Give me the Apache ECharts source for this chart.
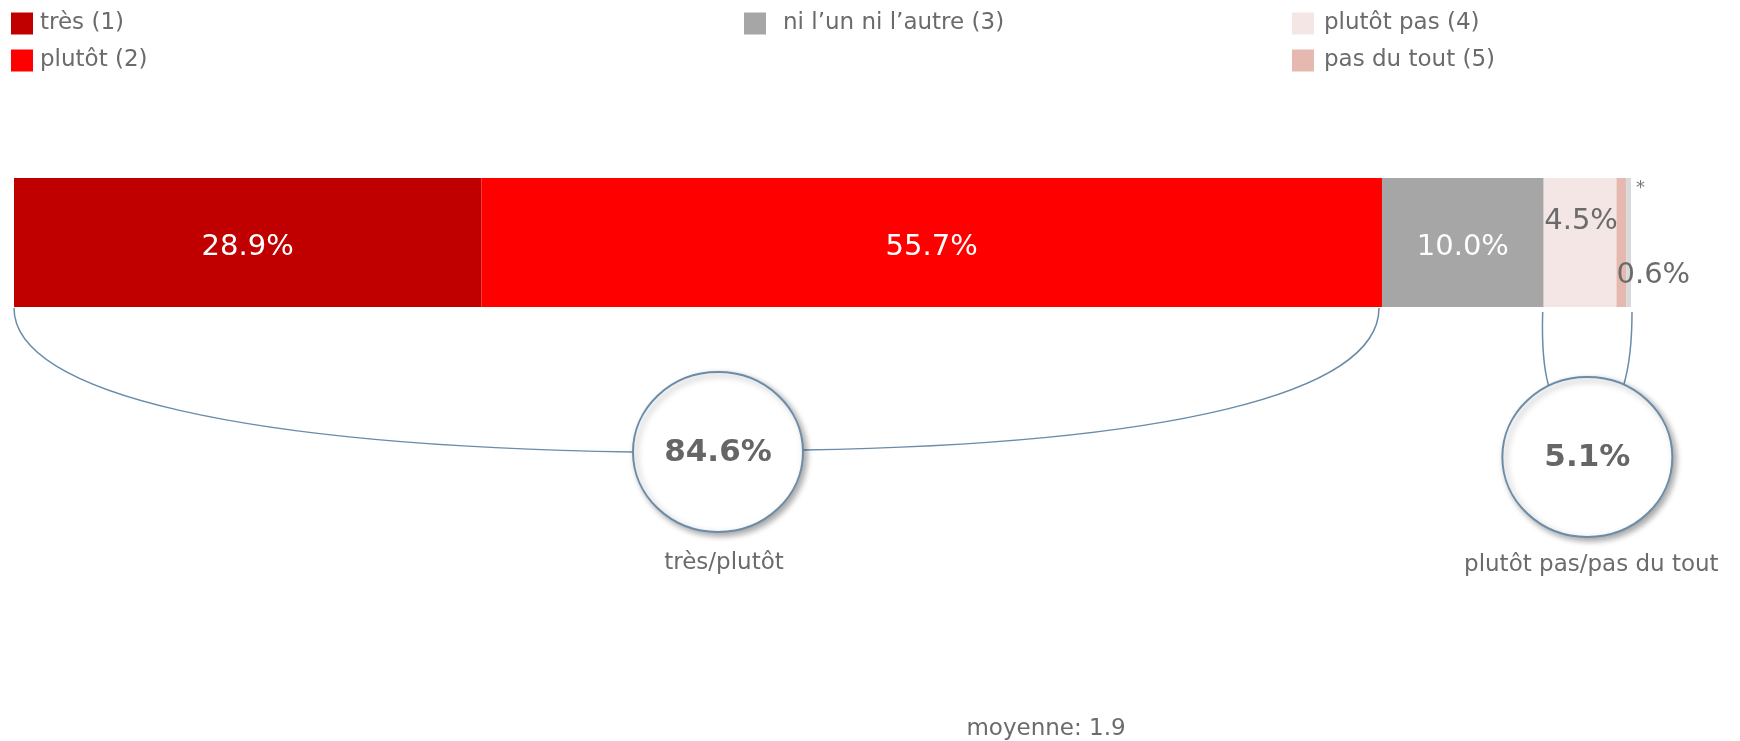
<!DOCTYPE html>
<html>
<head>
<meta charset="utf-8">
<script src="https://cdn.jsdelivr.net/npm/echarts@6/dist/echarts.min.js"></script>
<style>
  html, body { margin: 0; padding: 0; background: #fff; }
  #chart { width: 1740px; height: 741px; }
</style>
</head>
<body>
<div id="chart"></div>
<script>
// Answer categories and their shares (%), stacked in one horizontal bar
const categories = ['très (1)', 'plutôt (2)', 'ni l’un ni l’autre (3)', 'plutôt pas (4)', 'pas du tout (5)', '*'];
const shares = [28.9, 55.7, 10.0, 4.5, 0.6, 0.3];
const colors = ['#C00000', '#FF0000', '#A6A6A6', '#F5E6E6', '#E6B9B0', '#D9D9D9'];

// Summary groups (indices into categories)
const groupPositive = { name: 'très/plutôt', members: [0, 1] };
const groupNegative = { name: 'plutôt pas/pas du tout', members: [3, 4] };
const meanText = 'moyenne: 1.9';

const FONT = '"DejaVu Sans", Verdana, sans-serif';
const GREY_TEXT = '#6b6b6b';
const LINE = '#6a8ca8';

const GRID = { left: 14, right: 109, top: 178, height: 129 };

const chart = echarts.init(document.getElementById('chart'), null, { renderer: 'canvas' });

// Per-segment label placement
const labelCfg = [
  { color: '#fff', offset: [0, 5] },
  { color: '#fff', offset: [0, 5] },
  { color: '#fff', offset: [0, 5] },
  { color: GREY_TEXT, offset: [1, -21] },
  { color: GREY_TEXT, offset: [32, 33] },
  { color: '#7a7a7a', offset: [12, -54], size: 18, star: true }
];

const series = categories.map((name, i) => ({
  name: name,
  type: 'bar',
  stack: 'total',
  barWidth: GRID.height,
  data: [shares[i]],
  itemStyle: { color: colors[i] },
  emphasis: { disabled: true },
  label: {
    show: true,
    position: 'inside',
    offset: labelCfg[i].offset,
    color: labelCfg[i].color,
    fontFamily: FONT,
    fontSize: labelCfg[i].size || 29,
    formatter: labelCfg[i].star ? '*' : (p) => p.value.toFixed(1) + '%'
  }
}));

function legendAt(left, names, textGap) {
  return {
    left: left, top: 12, padding: 0,
    icon: 'rect', itemWidth: 22, itemHeight: 22,
    orient: 'vertical', itemGap: 14,
    selectedMode: false,
    data: names,
    textStyle: { fontFamily: FONT, fontSize: 23, lineHeight: 22, color: GREY_TEXT, padding: [0, 0, 0, textGap] }
  };
}

chart.setOption({
  animation: false,
  grid: { left: GRID.left, right: GRID.right, top: GRID.top, height: GRID.height },
  xAxis: { type: 'value', min: 0, max: 100, show: false },
  yAxis: { type: 'category', data: [''], show: false },
  legend: [
    legendAt(11, [categories[0], categories[1]], 2),
    legendAt(744, [categories[2]], 12),
    legendAt(1292, [categories[3], categories[4]], 5)
  ],
  series: series
});

// Pixel x of a cumulative share on the value axis
function xAt(v) { return chart.convertToPixel({ xAxisIndex: 0 }, v); }
function cumulative(n) { let s = 0; for (let i = 0; i < n; i++) s += shares[i]; return s; }
function groupTotal(g) { return g.members.reduce((s, i) => s + shares[i], 0); }

const barBottom = GRID.top + GRID.height;
const graphics = [];

function bubble(cx, cy, valueText, caption, captionDx, captionY) {
  graphics.push({
    type: 'ellipse', z: 10,
    shape: { cx: cx, cy: cy, rx: 85, ry: 80 },
    style: { fill: '#fff', stroke: LINE, lineWidth: 2,
      shadowBlur: 6, shadowOffsetX: 3, shadowOffsetY: 3, shadowColor: 'rgba(0,0,0,0.35)' }
  });
  graphics.push({
    type: 'text', z: 11,
    style: { text: valueText, x: cx, y: cy + 1, fill: '#666', font: 'bold 31px ' + FONT,
      align: 'center', verticalAlign: 'middle', textAlign: 'center', textVerticalAlign: 'middle' }
  });
  graphics.push({
    type: 'text', z: 11,
    style: { text: caption, x: cx + captionDx, y: captionY, fill: GREY_TEXT, font: '23px ' + FONT,
      align: 'center', verticalAlign: 'middle', textAlign: 'center', textVerticalAlign: 'middle' }
  });
}

// Positive group: wide bracket under the first two segments
{
  const x0 = xAt(0);
  const x1 = xAt(cumulative(2));
  const cx = (x0 + x1) / 2 + 20;
  const cy = 452;
  const lx = cx - 85, rx = cx + 85;
  graphics.push({
    type: 'bezierCurve', z: 5,
    shape: { x1: x0, y1: barBottom + 1, cpx1: x0, cpy1: 395, cpx2: lx - 0.62 * (lx - x0), cpy2: 446, x2: lx, y2: cy },
    style: { stroke: LINE, lineWidth: 1.5, fill: null }
  });
  graphics.push({
    type: 'bezierCurve', z: 5,
    shape: { x1: x1 - 3, y1: barBottom + 1, cpx1: x1 - 3, cpy1: 395, cpx2: rx + 0.62 * (x1 - rx), cpy2: 444, x2: rx, y2: cy - 2 },
    style: { stroke: LINE, lineWidth: 1.5, fill: null }
  });
  bubble(cx, cy, groupTotal(groupPositive).toFixed(1) + '%', groupPositive.name, 6, 563);
}

// Negative group: short bracket under the last segments
{
  const x0 = xAt(cumulative(3));
  const x1 = xAt(100);
  const cx = (x0 + x1) / 2;
  const cy = 457;
  graphics.push({
    type: 'bezierCurve', z: 5,
    shape: { x1: x0 - 1, y1: barBottom + 5, cpx1: x0 - 2, cpy1: 345, cpx2: x0 + 1, cpy2: 372, x2: x0 + 5, y2: 386 },
    style: { stroke: LINE, lineWidth: 1.5, fill: null }
  });
  graphics.push({
    type: 'bezierCurve', z: 5,
    shape: { x1: x1 + 1, y1: barBottom + 5, cpx1: x1 + 1, cpy1: 345, cpx2: x1 - 3, cpy2: 370, x2: x1 - 7, y2: 384 },
    style: { stroke: LINE, lineWidth: 1.5, fill: null }
  });
  bubble(cx, cy, groupTotal(groupNegative).toFixed(1) + '%', groupNegative.name, 4, 565);
}

graphics.push({
  type: 'text',
  style: { text: meanText, x: 1046, y: 729, fill: GREY_TEXT, font: '23px ' + FONT,
    align: 'center', verticalAlign: 'middle', textAlign: 'center', textVerticalAlign: 'middle' }
});

chart.setOption({ graphic: graphics });
</script>
</body>
</html>
